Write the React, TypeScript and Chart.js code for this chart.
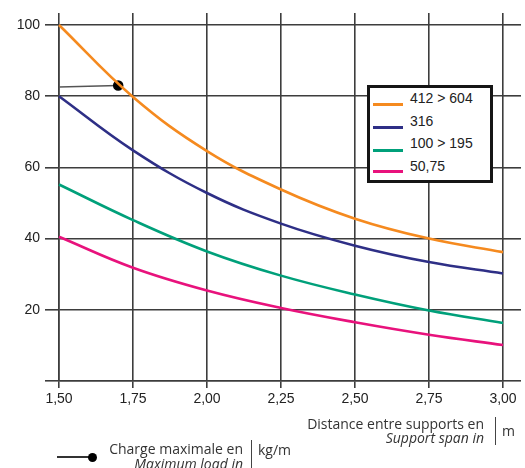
import React, { useEffect, useRef } from "react";
import { Chart, registerables } from "chart.js";

Chart.register(...registerables);

// ---- data ----
const spans = [1.5, 1.75, 2.0, 2.25, 2.5, 2.75, 3.0];
const series412to604 = [100, 79.8, 64.6, 53.8, 45.6, 40.0, 36.2];
const series316 = [80, 64.8, 52.8, 44.2, 38, 33.4, 30.2];
const series100to195 = [55.2, 45.2, 36.4, 29.6, 24.3, 19.8, 16.3];
const series50_75 = [40.5, 31.8, 25.4, 20.5, 16.5, 13, 10.1];
const seriesNames = ["412 > 604", "316", "100 > 195", "50,75"];
const seriesColors = ["#F58A1F", "#2E2F86", "#00A07A", "#E8127C"];

const markerSpan = [1.5, 1.7];
const markerLoad = [82.6, 83];

const xTickValues = [1.5, 1.75, 2.0, 2.25, 2.5, 2.75, 3.0];
const xTickLabels = ["1,50", "1,75", "2,00", "2,25", "2,50", "2,75", "3,00"];
const yTickValues = [0, 20, 40, 60, 80, 100];
const yTickLabels = ["", "20", "40", "60", "80", "100"];

const GRID = "#3d3d3d";
const TICK_FONT = { family: "'Liberation Sans', Arial, sans-serif", size: 14 };

export default function App() {
  const canvasRef = useRef<HTMLCanvasElement | null>(null);

  useEffect(() => {
    const canvas = canvasRef.current;
    if (!canvas) return;
    const allSeries = [series412to604, series316, series100to195, series50_75];
    const datasets: any[] = allSeries.map((vals, si) => ({
      label: seriesNames[si],
      data: spans.map((s, i) => ({ x: s, y: vals[i] })),
      borderColor: seriesColors[si],
      borderWidth: 2.6,
      pointRadius: 0,
      tension: 0.4,
      fill: false,
      clip: false,
    }));
    datasets.push({
      label: "marker",
      data: markerSpan.map((s, i) => ({ x: s, y: markerLoad[i] })),
      borderColor: "#555",
      borderWidth: 1.5,
      pointRadius: [0, 4.5],
      pointBackgroundColor: "#000",
      pointBorderColor: "#000",
      fill: false,
      clip: false,
    });

    const setXTicks = (scale: any) => {
      scale.ticks = xTickValues.map((v) => ({ value: v }));
    };
    const setYTicks = (scale: any) => {
      scale.ticks = yTickValues.map((v) => ({ value: v }));
    };

    const chart = new Chart(canvas, {
      type: "line",
      data: { datasets },
      options: {
        animation: false,
        responsive: false,
        maintainAspectRatio: false,
        layout: { padding: { left: 7, right: 4, top: 13, bottom: 57 } },
        plugins: { legend: { display: false }, tooltip: { enabled: false } },
        scales: {
          x: {
            type: "linear",
            position: "bottom",
            min: 1.5,
            max: 3.0,
            afterBuildTicks: setXTicks,
            afterFit: (s: any) => {
              s.height = 30;
            },
            ticks: {
              callback: (_v: any, i: number) => xTickLabels[i],
              font: TICK_FONT,
              color: "#222",
              padding: 3,
              maxRotation: 0,
              autoSkip: false,
            },
            grid: { color: GRID, lineWidth: 1.6, tickLength: 7, tickColor: GRID },
            border: { display: true, color: GRID, width: 1.6 },
          },
          x2: {
            type: "linear",
            position: "top",
            min: 1.5,
            max: 3.0,
            afterBuildTicks: setXTicks,
            afterFit: (s: any) => {
              s.height = 12;
            },
            ticks: { display: false },
            grid: { drawOnChartArea: false, color: GRID, lineWidth: 1.6, tickLength: 12, tickColor: GRID },
            border: { display: false },
          },
          y: {
            type: "linear",
            position: "left",
            min: 0,
            max: 100,
            afterBuildTicks: setYTicks,
            afterFit: (s: any) => {
              s.width = 52;
            },
            ticks: {
              callback: (_v: any, i: number) => yTickLabels[i],
              font: TICK_FONT,
              color: "#222",
              padding: 5,
              autoSkip: false,
            },
            grid: { color: GRID, lineWidth: 1.6, tickLength: 14, tickColor: GRID },
            border: { display: true, color: GRID, width: 1.6 },
          },
          y2: {
            type: "linear",
            position: "right",
            min: 0,
            max: 100,
            afterBuildTicks: setYTicks,
            afterFit: (s: any) => {
              s.width = 18;
            },
            ticks: { display: false },
            grid: { drawOnChartArea: false, color: GRID, lineWidth: 1.6, tickLength: 18, tickColor: GRID },
            border: { display: false },
          },
        },
      },
    } as any);
    return () => chart.destroy();
  }, []);

  const legendTop = [13, 36, 58, 81];
  const legendLine = [19, 42, 65, 86];
  const textFont = "'Open Sans', 'DejaVu Sans', sans-serif";

  return (
    <div style={{ position: "absolute", left: 0, top: 0, width: 525, height: 468, background: "#fff", overflow: "hidden" }}>
      <canvas ref={canvasRef} width={525} height={468} style={{ width: 525, height: 468, display: "block" }} />
      {/* legend */}
      <div
        style={{
          position: "absolute",
          left: 367,
          top: 85,
          width: 126,
          height: 98,
          boxSizing: "border-box",
          border: "3px solid #151515",
          background: "#fff",
        }}
      >
        {seriesNames.map((name, i) => (
          <React.Fragment key={name}>
            <div
              style={{
                position: "absolute",
                left: 3,
                top: legendLine[i] - 3 - 1.5,
                width: 30,
                height: 3,
                background: seriesColors[i],
              }}
            />
            <div
              style={{
                position: "absolute",
                left: 40,
                top: legendTop[i] - 3 - 9,
                height: 18,
                lineHeight: "18px",
                fontFamily: "'Liberation Sans', Arial, sans-serif",
                fontSize: 14,
                color: "#222",
                whiteSpace: "nowrap",
              }}
            >
              {name}
            </div>
          </React.Fragment>
        ))}
      </div>
      {/* x axis title */}
      <div
        style={{
          position: "absolute",
          right: 525 - 484,
          top: 417,
          textAlign: "right",
          fontFamily: textFont,
          fontSize: 14,
          lineHeight: "14px",
          color: "#333",
          whiteSpace: "nowrap",
        }}
      >
        <div>Distance entre supports en</div>
        <div style={{ fontStyle: "italic" }}>Support span in</div>
      </div>
      <div style={{ position: "absolute", left: 495, top: 417, width: 1.2, height: 28, background: "#444" }} />
      <div
        style={{
          position: "absolute",
          left: 502,
          top: 423,
          fontFamily: textFont,
          fontSize: 14,
          lineHeight: "16px",
          color: "#333",
        }}
      >
        m
      </div>
      {/* y axis title / marker key */}
      <div style={{ position: "absolute", left: 57, top: 456, width: 34, height: 1.5, background: "#333" }} />
      <div style={{ position: "absolute", left: 88, top: 452.5, width: 9, height: 9, borderRadius: "50%", background: "#000" }} />
      <div
        style={{
          position: "absolute",
          right: 525 - 243,
          top: 441,
          textAlign: "right",
          fontFamily: textFont,
          fontSize: 14,
          lineHeight: "15px",
          color: "#333",
          whiteSpace: "nowrap",
        }}
      >
        <div>Charge maximale en</div>
        <div style={{ fontStyle: "italic" }}>Maximum load in</div>
      </div>
      <div style={{ position: "absolute", left: 251, top: 440, width: 1.2, height: 30, background: "#444" }} />
      <div
        style={{
          position: "absolute",
          left: 258,
          top: 442,
          fontFamily: textFont,
          fontSize: 14,
          lineHeight: "16px",
          color: "#333",
        }}
      >
        kg/m
      </div>
    </div>
  );
}
